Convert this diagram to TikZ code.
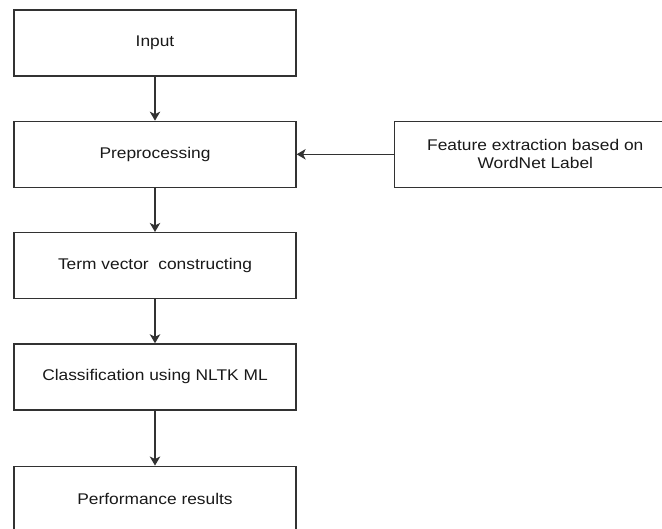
\documentclass[tikz,border=0pt]{standalone}
\usepackage{fontspec}
\setmainfont{Liberation Sans}[FakeStretch=1.12]
\usepackage{tikz}
\usetikzlibrary{positioning,arrows.meta}
\definecolor{linec}{RGB}{50,50,50}
\definecolor{textc}{RGB}{25,25,25}
\tikzset{
  stage/.style  = {draw=linec, line width=1.3pt, fill=white, minimum width=282pt,
                   minimum height=66pt, align=center, inner sep=2pt, text=textc,
                   font=\fontsize{15.5}{18}\selectfont},
  flow/.style   = {-{Stealth[length=9pt,width=10.5pt,inset=2.5pt]}, line width=1.3pt, draw=linec},
}
\begin{document}
\begin{tikzpicture}[x=1pt,y=1pt,node distance=44pt]

\useasboundingbox (0,0) rectangle (662,-529);
\clip (0,0) rectangle (662,-529);

\node[stage] (input) at (155,-43) {Input};
\node[stage, below=of input] (prep) {Preprocessing};
\node[stage, below=of prep] (term) {Term vector\ \ constructing};
\node[stage, below=of term] (clf) {Classification using NLTK ML};
\node[stage, below=55pt of clf] (perf) {Performance results};
\node[stage, right=97pt of prep] (feat) {Feature extraction based on\\WordNet Label};

\draw[flow] (input) -- (prep);
\draw[flow] (prep) -- (term);
\draw[flow] (term) -- (clf);
\draw[flow] (clf) -- (perf);
\draw[flow] (feat) -- (prep);

\end{tikzpicture}
\end{document}
